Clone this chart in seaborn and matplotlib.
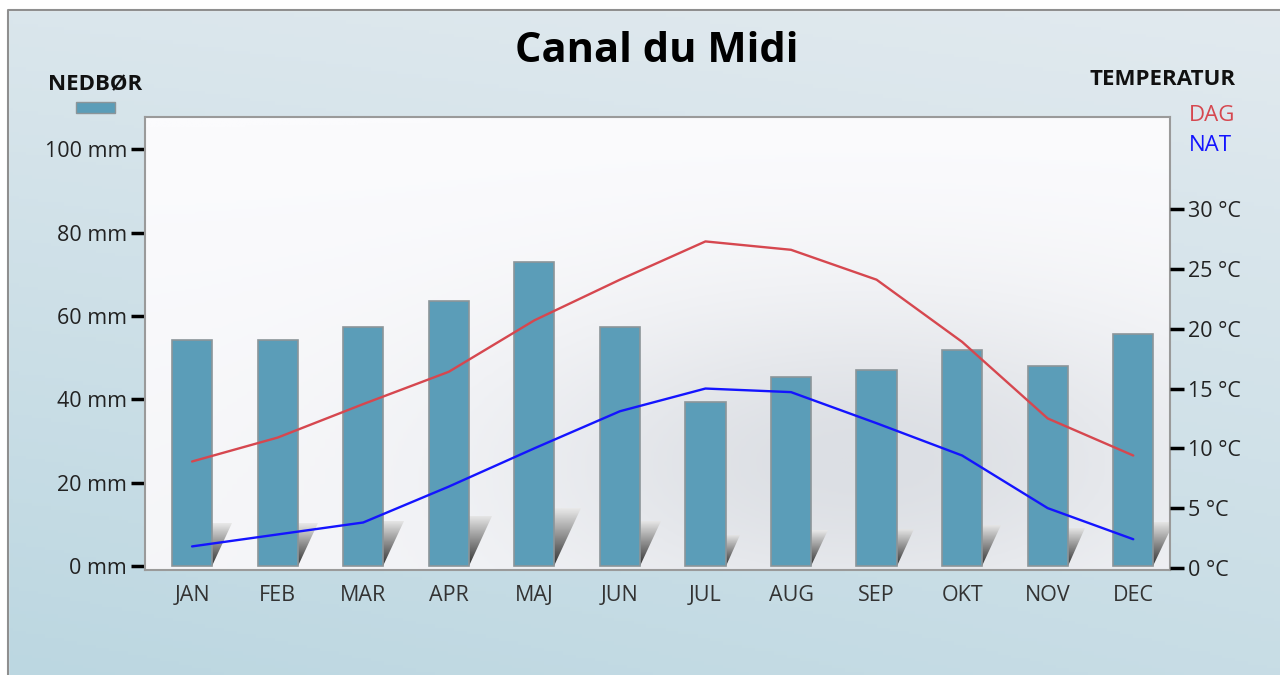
import numpy as np
import pandas as pd
import seaborn as sns
import matplotlib.pyplot as plt
from matplotlib.patches import Polygon, Rectangle
from matplotlib.colors import LinearSegmentedColormap

months = ["JAN", "FEB", "MAR", "APR", "MAJ", "JUN", "JUL", "AUG", "SEP", "OKT", "NOV", "DEC"]
rain_mm = [54.2, 54.2, 57.3, 63.5, 72.9, 57.3, 39.3, 45.3, 47.0, 51.8, 48.0, 55.6]
temp_day = [8.9, 10.9, 13.7, 16.4, 20.7, 24.1, 27.3, 26.6, 24.1, 18.9, 12.5, 9.4]
temp_night = [1.8, 2.8, 3.8, 6.8, 10.0, 13.1, 15.0, 14.7, 12.1, 9.4, 5.0, 2.4]
mm_ticks = [0, 20, 40, 60, 80, 100]
c_ticks = [0, 5, 10, 15, 20, 25, 30]

BAR = "#5b9db8"
RED = "#d6474f"
BLUE = "#1414ff"
FONT = ["Open Sans", "DejaVu Sans"]


def main():
    sns.set_theme(style="white")
    plt.rcParams["font.family"] = FONT

    df = pd.DataFrame({"month": months, "rain": rain_mm,
                       "day": temp_day, "night": temp_night})
    df["pos"] = np.arange(len(df))

    fig = plt.figure(figsize=(12.8, 6.75), dpi=100)

    # page background gradient
    bg = fig.add_axes([0, 0, 1, 1], zorder=-10)
    yy, xx = np.mgrid[0:1:200j, 0:1:200j]
    t = np.clip(0.55 * yy + 0.25 * (1 - xx) * yy + 0.15 * (1 - xx) * (1 - yy), 0, 1)
    bg_cmap = LinearSegmentedColormap.from_list("bg", ["#e2eaef", "#bcd7e1"])
    bg.imshow(t, cmap=bg_cmap, extent=[0, 1, 0, 1], aspect="auto", origin="upper")
    bg.add_patch(Rectangle((0, 0.985), 1, 0.02, color="white", transform=bg.transAxes))
    bg.add_patch(Rectangle((0, 0), 0.0063, 1, color="white", transform=bg.transAxes))
    bg.plot([0.0063, 0.0063, 1], [0, 0.985, 0.985], color="#8f8f8f", lw=1.5)
    bg.set_xlim(0, 1)
    bg.set_ylim(0, 1)
    bg.axis("off")

    ax = fig.add_axes([0.1133, 0.1556, 0.8008, 0.671])
    ax.set_facecolor("none")

    # plot area gradient
    py, px = np.mgrid[0:1:200j, 0:1:200j]
    blob = np.exp(-(((px - 0.7) / 0.35) ** 2 + ((py - 0.75) / 0.35) ** 2))
    area = np.clip(0.15 * py + 0.75 * blob, 0, 1)
    area_cmap = LinearSegmentedColormap.from_list("area", ["#fbfbfd", "#dcdfe4"])
    ax.imshow(area, cmap=area_cmap, extent=[0, 1, 0, 1], aspect="auto",
              origin="upper", transform=ax.transAxes, zorder=-5)

    sns.barplot(data=df, x="month", y="rain", ax=ax, color=BAR, width=0.47,
                edgecolor="#8c9599", linewidth=1.2, saturation=1, zorder=3)

    # small gradient shadows beside each bar
    shade = np.linspace(0, 1, 50).reshape(-1, 1)
    shade_cmap = LinearSegmentedColormap.from_list("sh", ["#e8e8e8", "#303030"])
    for pos, v in zip(df["pos"], df["rain"]):
        r = pos + 0.235
        h = 0.19 * v
        dx = 0.23 * v / 54
        tri = Polygon([(r, 0), (r, h), (r + dx, h)], closed=True,
                      facecolor="none", edgecolor="none")
        ax.add_patch(tri)
        im = ax.imshow(shade, cmap=shade_cmap, extent=[r, r + dx, 0, h],
                       aspect="auto", origin="upper", zorder=2)
        im.set_clip_path(tri)

    ax.set_xlim(-0.55, 11.43)
    ax.set_ylim(-0.96, 107.7)
    ax.set_yticks(mm_ticks)
    ax.set_yticklabels([f"{v} mm" for v in mm_ticks])
    ax.set_xlabel("")
    ax.set_ylabel("")
    ax.tick_params(axis="y", which="both", left=True, length=10, width=2.5,
                   color="black", labelsize=15.5, pad=3, labelcolor="#222222")
    ax.tick_params(axis="x", bottom=False, labelsize=15.5, pad=5, labelcolor="#333333")
    for s in ax.spines.values():
        s.set_color("#9a9a9a")
        s.set_linewidth(1.5)

    ax2 = ax.twinx()
    sns.lineplot(data=df, x="pos", y="day", ax=ax2, color=RED, linewidth=1.7)
    sns.lineplot(data=df, x="pos", y="night", ax=ax2, color=BLUE, linewidth=1.7)
    ax2.set_ylim(-0.17, 37.7)
    ax2.set_yticks(c_ticks)
    ax2.set_yticklabels([f"{v} °C" for v in c_ticks])
    ax2.set_xlabel("")
    ax2.set_ylabel("")
    ax2.tick_params(axis="y", which="both", right=True, length=10, width=2.5,
                    color="black", labelsize=15.5, pad=3, labelcolor="#222222")
    for s in ax2.spines.values():
        s.set_visible(False)
    ax.set_xlim(-0.55, 11.43)

    # titles and legend texts
    fig.text(0.513, 0.923, "Canal du Midi", ha="center", va="center",
             fontsize=30, fontweight="bold", color="black")
    fig.text(0.074, 0.875, "NEDBØR", ha="center", va="center",
             fontsize=16, fontweight="bold", color="#111111")
    bg.add_patch(Rectangle((0.059, 0.833), 0.031, 0.016, facecolor=BAR,
                           edgecolor="#8c9599", lw=1))
    fig.text(0.9085, 0.882, "TEMPERATUR", ha="center", va="center",
             fontsize=16, fontweight="bold", color="#111111")
    fig.text(0.929, 0.829, "DAG", ha="left", va="center", fontsize=16, color=RED)
    fig.text(0.929, 0.785, "NAT", ha="left", va="center", fontsize=16, color=BLUE)

    fig.savefig("out.png", dpi=100)


if __name__ == "__main__":
    main()
